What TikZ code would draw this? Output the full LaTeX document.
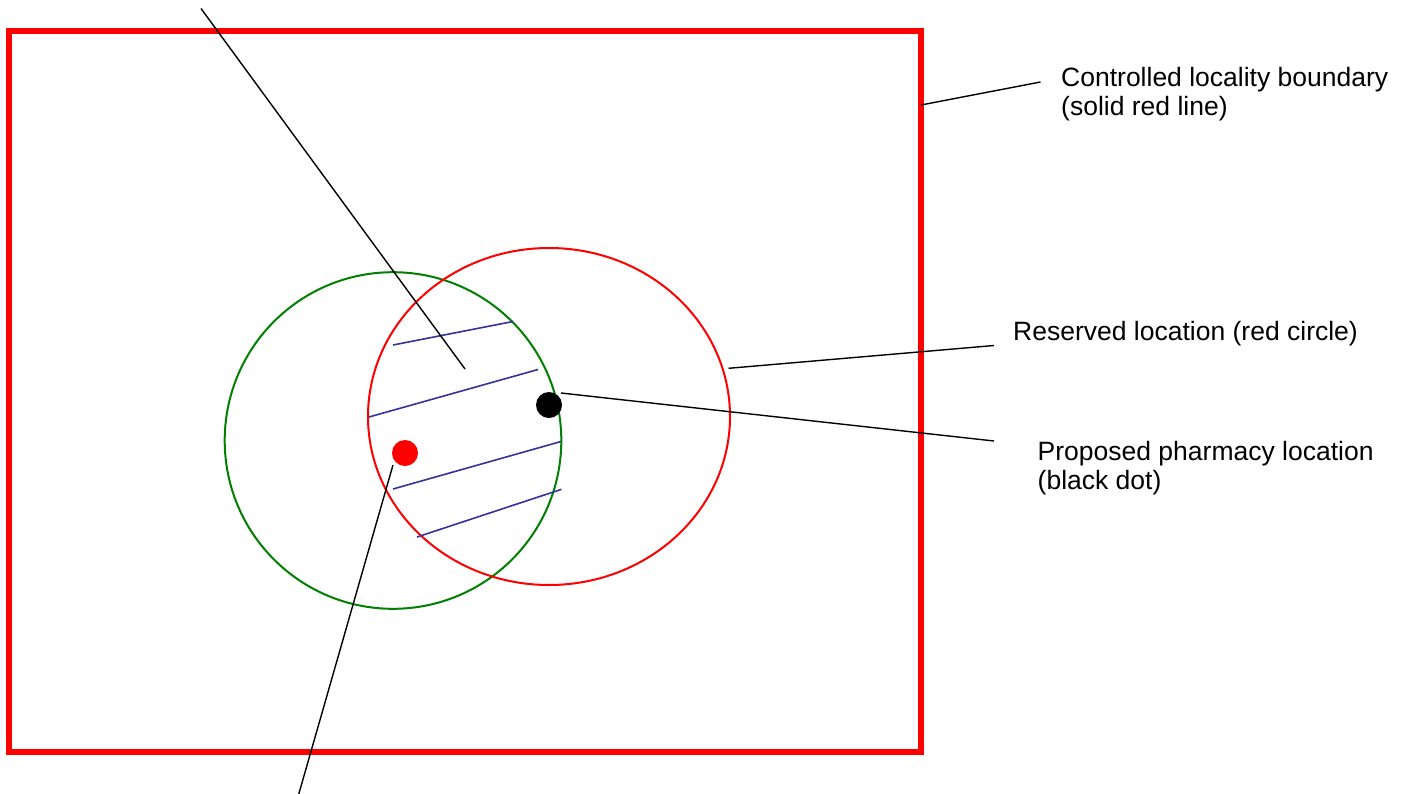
\documentclass[tikz,border=0pt]{standalone}
\usepackage{fontspec}
\setmainfont{Liberation Sans}
\definecolor{boundred}{RGB}{255,0,0}
\definecolor{hatchblue}{RGB}{51,51,153}
\definecolor{circgreen}{RGB}{0,128,0}
\begin{document}
\begin{tikzpicture}[x=1pt,y=-1pt,
  leader/.style={draw=black,line width=1.4pt},
  hatch/.style={draw=hatchblue,line width=1.6pt},
  lbl/.style={anchor=base west,inner sep=0pt,font=\fontsize{26.5}{30}\selectfont},
  dot/.style={circle,inner sep=0pt,minimum size=26pt}]
\useasboundingbox (0,0) rectangle (1405,793);
\fill[white] (0,0) rectangle (1405,793);
% boundary
\draw[boundred,line width=6pt] (9,31.3) rectangle (921,752);
% circles
\draw[circgreen,line width=2pt] (393,440.5) circle [radius=168.3];
\draw[boundred,line width=2pt] (549,416.5) ellipse [x radius=181, y radius=168.5];
% hatching
\draw[hatch] (393,345) -- (513,321.5);
\draw[hatch] (369,417) -- (538,369.5);
\draw[hatch] (393,489) -- (561,441.5);
\draw[hatch] (417,537) -- (561.5,489.3);
% dots
\node[dot,fill=black] (bdot) at (549,405) {};
\node[dot,fill=boundred] (rdot) at (405,453) {};
% leader coordinates
\coordinate (t1) at (201,8.5);
\coordinate (t2) at (465,369);
\coordinate (b1) at (393,465);
\coordinate (b2) at (298.5,795);
\coordinate (c1) at (921,105);
\coordinate (c2) at (1040.5,82);
\coordinate (r1) at (728.5,368.3);
\coordinate (r2) at (994,345.5);
\coordinate (p1) at (561,393);
\coordinate (p2) at (994,441);
\draw[leader] (t1) -- (t2);
\draw[leader] (b1) -- (b2);
\draw[leader] (c1) -- (c2);
\draw[leader] (r1) -- (r2);
\draw[leader] (p1) -- (p2);
% labels
\node[lbl] (ctlA) at (1061,86.5) {Controlled locality boundary};
\node[lbl] (ctlB) at (1061,115.5) {(solid red line)};
\node[lbl] (res) at (1013,340) {Reserved location (red circle)};
\node[lbl] (propA) at (1037.5,460) {Proposed pharmacy location};
\node[lbl] (propB) at (1037.5,489.5) {(black dot)};
\end{tikzpicture}
\end{document}
